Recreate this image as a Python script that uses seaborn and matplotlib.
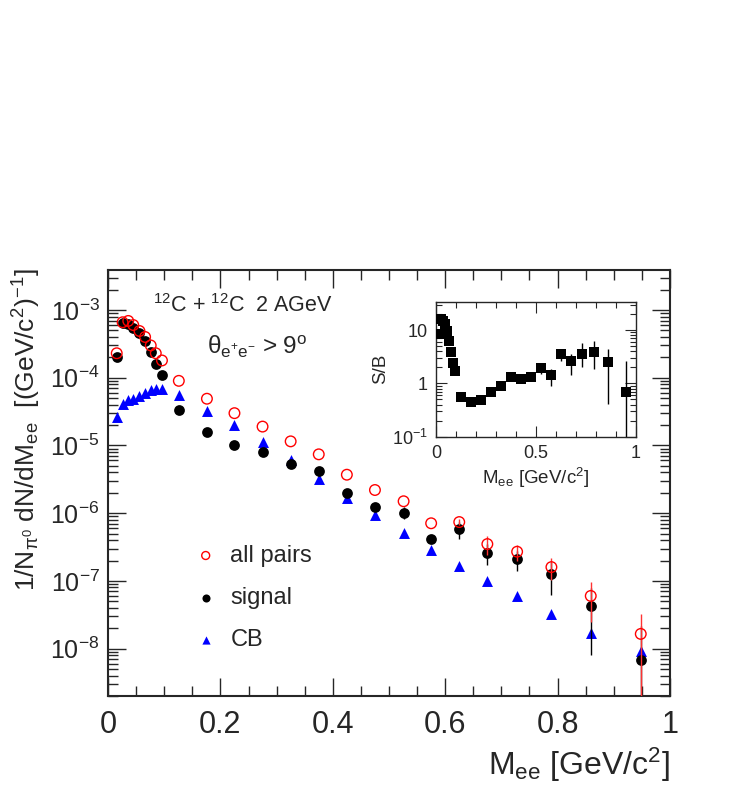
import numpy as np
import pandas as pd
import seaborn as sns
import matplotlib.pyplot as plt
from matplotlib.ticker import LogLocator, MultipleLocator, NullFormatter, FuncFormatter

# invariant mass bins [GeV/c^2]
mass = [0.0155, 0.026, 0.036, 0.045, 0.056, 0.066, 0.076, 0.085, 0.096,
        0.126, 0.176, 0.225, 0.275, 0.325, 0.375, 0.425, 0.475, 0.526,
        0.575, 0.625, 0.675, 0.728, 0.789, 0.859, 0.948]

all_pairs = [2.3e-4, 6.6e-4, 6.9e-4, 6.0e-4, 4.9e-4, 4.0e-4, 3.0e-4, 2.3e-4, 1.8e-4,
             9.0e-5, 4.9e-5, 3.0e-5, 1.9e-5, 1.15e-5, 7.4e-6, 3.7e-6, 2.2e-6, 1.5e-6,
             7.1e-7, 7.4e-7, 3.5e-7, 2.7e-7, 1.6e-7, 6.0e-8, 1.65e-8]
all_pairs_err = [0, 0, 0, 0, 0, 0, 0, 0, 0,
                 0, 0, 0, 0, 0, 0, 0, 0, 0,
                 0, 0.8e-7, 1.1e-7, 0.7e-7, 0.56e-7, 3.5e-8, 1.6e-8]

signal = [2.0e-4, 6.4e-4, 6.3e-4, 5.5e-4, 4.6e-4, 3.5e-4, 2.4e-4, 1.6e-4, 1.1e-4,
          3.3e-5, 1.6e-5, 1.03e-5, 8.0e-6, 5.4e-6, 4.2e-6, 2.0e-6, 1.25e-6, 1.02e-6,
          4.2e-7, 5.8e-7, 2.6e-7, 2.1e-7, 1.27e-7, 4.3e-8, 6.8e-9]
signal_err = [0, 0, 0, 0, 0, 0, 0, 0, 0,
              0, 0, 0, 0, 0, 0.3e-6, 0.2e-6, 0.15e-6, 0.2e-6,
              0.6e-7, 1.6e-7, 0.9e-7, 0.7e-7, 0.65e-7, 3.5e-8, 1.5e-8]

cb = [2.6e-5, 4.1e-5, 4.7e-5, 4.8e-5, 5.4e-5, 5.9e-5, 6.7e-5, 6.9e-5, 6.9e-5,
      5.5e-5, 3.2e-5, 2.0e-5, 1.12e-5, 6.2e-6, 3.2e-6, 1.65e-6, 9.3e-7, 5.1e-7,
      2.9e-7, 1.65e-7, 1.0e-7, 5.9e-8, 3.2e-8, 1.7e-8, 9.1e-9]

s_over_b = [8.3, 16, 15, 13, 9.7, 6.3, 3.8, 2.4, 1.7,
            0.55, 0.45, 0.49, 0.69, 0.89, 1.3, 1.19, 1.32, 1.96,
            1.44, 3.5, 2.6, 3.5, 3.9, 2.5, 0.69]
sb_err_lo = [0, 0, 0, 0, 0, 0, 0, 0, 0,
             0, 0, 0, 0, 0, 0.15, 0.15, 0.2, 0.46,
             0.55, 0.9, 1.17, 1.45, 2.0, 2.09, 0.68]
sb_err_hi = [0, 0, 0, 0, 0, 0, 0, 0, 0,
             0, 0, 0, 0, 0, 0.15, 0.15, 0.2, 0.49,
             0.46, 0.7, 1.0, 2.1, 2.4, 2.0, 1.9]

df = pd.DataFrame({"mass": mass, "all": all_pairs, "all_err": all_pairs_err,
                   "signal": signal, "signal_err": signal_err, "cb": cb,
                   "sb": s_over_b, "sb_lo": sb_err_lo, "sb_hi": sb_err_hi})

sns.set_style("ticks")
plt.rcParams["font.family"] = ["Liberation Sans", "DejaVu Sans"]
plt.rcParams["mathtext.fontset"] = "custom"
plt.rcParams["mathtext.rm"] = "Liberation Sans"
plt.rcParams["mathtext.it"] = "Liberation Sans:italic"
plt.rcParams["mathtext.bf"] = "Liberation Sans:bold"

fig = plt.figure(figsize=(7.47, 7.89), dpi=100)
ax = fig.add_axes([0.1446, 0.1179, 0.7523, 0.5399])

# CB, then signal, then all pairs on top
sns.scatterplot(data=df, x="mass", y="cb", marker="^", color="#0000ff",
                edgecolor="#0000ff", s=62, linewidth=0, ax=ax, label="CB", zorder=3)
ax.errorbar(df["mass"], df["signal"], yerr=df["signal_err"], fmt="none",
            ecolor="black", elinewidth=1, zorder=3)
sns.scatterplot(data=df, x="mass", y="signal", marker="o", color="black",
                edgecolor="black", s=60, linewidth=0, ax=ax, label="signal", zorder=4)
ax.errorbar(df["mass"], df["all"], yerr=df["all_err"], fmt="none",
            ecolor="#ff3333", elinewidth=1, zorder=5)
sns.scatterplot(data=df, x="mass", y="all", marker="o", facecolor="none",
                color="red", edgecolor="red", s=58, linewidth=1.0, ax=ax,
                label="all pairs", zorder=6)

ax.set_yscale("log")
ax.set_xlim(0, 1)
ax.set_ylim(2.0e-9, 3.9e-3)
ax.xaxis.set_major_locator(MultipleLocator(0.2))
ax.xaxis.set_minor_locator(MultipleLocator(0.05))
ax.xaxis.set_major_formatter(FuncFormatter(lambda v, p: "%g" % v))
ax.yaxis.set_major_locator(LogLocator(base=10, numticks=20))
ax.yaxis.set_minor_locator(LogLocator(base=10, subs=np.arange(2, 10), numticks=20))
ax.yaxis.set_minor_formatter(NullFormatter())
ax.tick_params(which="both", direction="in", top=True, right=True, width=1)
ax.tick_params(which="major", length=13)
ax.tick_params(which="minor", length=7)
ax.tick_params(axis="x", labelsize=22, pad=10)
ax.tick_params(axis="y", labelsize=18, pad=6)
for sp in ax.spines.values():
    sp.set_linewidth(1.5)
ax.xaxis.label.set_visible(False)
ax.yaxis.label.set_visible(False)

h, l = ax.get_legend_handles_labels()
order = [2, 1, 0]
ax.legend([h[i] for i in order], [l[i] for i in order], frameon=False,
          fontsize=17, markerscale=0.75, handlelength=1.0, handletextpad=0.55,
          labelspacing=0.85, loc="upper left", bbox_to_anchor=(0.115, 0.405))

fig.text(0.1446 + 0.7523, 0.030, r"M$_{\mathrm{ee}}$ [GeV/c$^{2}$]",
         ha="right", va="center", fontsize=23)
fig.text(0.036, 0.660, r"1/N$_{\mathrm{π^{0}}}$ dN/dM$_{\mathrm{ee}}$  [(GeV/c$^{2}$)$^{-1}$]",
         rotation=90, ha="center", va="top", fontsize=19)
fig.text(0.205, 0.613, r"$^{12}$C + $^{12}$C  2 AGeV", ha="left", va="center", fontsize=15.5)
fig.text(0.277, 0.560, r"θ$_{\mathrm{e^{+}e^{-}}}$ > 9$^{\mathrm{o}}$",
         ha="left", va="center", fontsize=17.5)

# inset: signal over background
ins = fig.add_axes([436 / 747, 1 - 436.7 / 789, 200 / 747, 135 / 789])
ins.errorbar(df["mass"], df["sb"], yerr=[df["sb_lo"], df["sb_hi"]], fmt="none",
             ecolor="black", elinewidth=1)
sns.scatterplot(data=df, x="mass", y="sb", marker="s", color="black",
                edgecolor="black", s=42, linewidth=0, ax=ins, zorder=3)
ins.set_yscale("log")
ins.set_xlim(0, 1)
ins.set_ylim(0.1, 34)
ins.xaxis.set_major_locator(MultipleLocator(0.5))
ins.xaxis.set_minor_locator(MultipleLocator(0.1))
ins.xaxis.set_major_formatter(FuncFormatter(lambda v, p: "%g" % v))
ins.yaxis.set_major_locator(LogLocator(base=10, numticks=10))
ins.yaxis.set_minor_locator(LogLocator(base=10, subs=np.arange(2, 10), numticks=10))
ins.yaxis.set_minor_formatter(NullFormatter())
ins.yaxis.set_major_formatter(FuncFormatter(
    lambda v, p: r"10$^{-1}$" if v < 0.5 else ("%g" % v)))
ins.tick_params(which="both", direction="in", top=True, right=True, width=0.8)
ins.tick_params(which="major", length=8)
ins.tick_params(which="minor", length=4)
ins.tick_params(labelsize=13, pad=6)
for sp in ins.spines.values():
    sp.set_linewidth(1.0)
ins.set_xlabel(r"M$_{\mathrm{ee}}$ [GeV/c$^{2}$]", fontsize=13.5, labelpad=3)
ins.set_ylabel("S/B", fontsize=13.5, labelpad=2)

fig.savefig("out.png", dpi=100)
